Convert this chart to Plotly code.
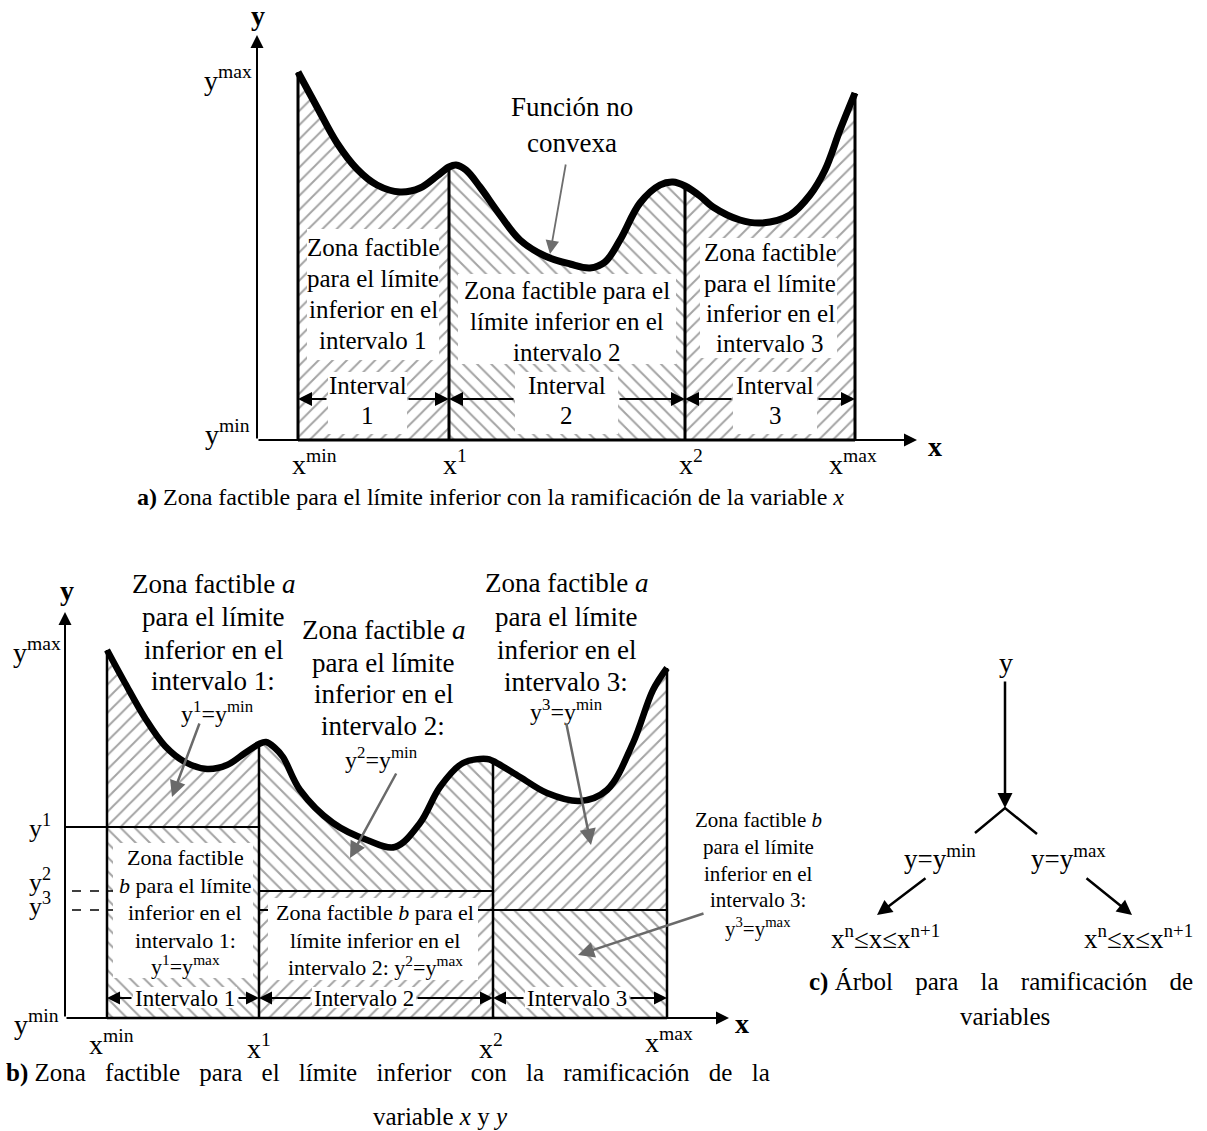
import plotly.graph_objects as go

FONT = "Liberation Serif, Times New Roman, serif"

# ---------------- panel a: branching on x only ----------------
# horizontal offset from the y axis and height above y_min
xa_bounds = [41, 192, 428, 598]          # x_min, x1, x2, x_max
xa_curve = [41, 60, 80, 100, 120, 143, 163, 180, 192,
            199, 209, 223, 243, 263, 288, 313, 333, 348, 363, 383, 403, 416, 428,
            443, 456, 483, 505, 533, 553, 568, 583, 598]
ya_curve = [368, 333, 297, 271, 255, 248, 252, 264, 273,
            275, 270, 253, 225, 200, 184, 176, 172, 178, 200, 237, 255, 258, 254,
            244, 233, 220, 217, 225, 245, 270, 310, 347]
xa_ticks = ["x<sup>min</sup>", "x<sup>1</sup>", "x<sup>2</sup>", "x<sup>max</sup>"]
a_hatch = ["/", "\\", "/"]

# ---------------- panel b: branching on x and y ----------------
xb_bounds = [42, 194, 428, 602]
xb_curve = [42, 60, 80, 100, 120, 142, 162, 180, 194,
            201, 210, 218, 235, 268, 302, 330, 355, 375, 398, 422, 428,
            455, 482, 515, 542, 568, 588, 602]
yb_curve = [368, 335, 300, 272, 256, 249, 253, 265, 274,
            276, 270, 261, 228, 195, 178, 171, 195, 231, 255, 259, 257,
            241, 225, 217, 228, 275, 328, 350]
yb_levels = [191, 127, 108]               # y1, y2, y3
b_hatch_up = ["/", "\\", "/"]
b_hatch_low = ["\\", "/", "\\"]

PAT = dict(fgcolor="#a4a4a4", bgcolor="white", size=10, solidity=0.2, fillmode="replace")

fig = go.Figure()
ann = []
shapes = []


def seg(xs, ys, a, b):
    i0, i1 = xs.index(a), xs.index(b)
    return xs[i0:i1 + 1], ys[i0:i1 + 1]


def line(x, y, axes, width=2, color="black", dash="solid", shape="linear"):
    fig.add_trace(go.Scatter(x=x, y=y, mode="lines", xaxis=axes[0], yaxis=axes[1],
                             line=dict(color=color, width=width, dash=dash, shape=shape),
                             hoverinfo="skip"))


def text(t, x, y, axes, size, xanchor="center", bold=False):
    if bold:
        t = "<b>" + t + "</b>"
    ann.append(dict(text=t, x=x, y=y, xref=axes[0], yref=axes[1], showarrow=False,
                    xanchor=xanchor, yanchor="middle", borderpad=0,
                    font=dict(family=FONT, size=size, color="black")))


def block(lines, x, ys, axes, size):
    for t, y in zip(lines, ys):
        text(t, x, y, axes, size)


def arrow(tip, tail, axes, color="black", width=2, head=2, size=1.2):
    ann.append(dict(text="", x=tip[0], y=tip[1], ax=tail[0], ay=tail[1],
                    xref=axes[0], yref=axes[1], axref=axes[0], ayref=axes[1],
                    showarrow=True, arrowhead=head, arrowsize=size, arrowwidth=width,
                    arrowcolor=color, standoff=0))


def box(x0, x1, y0, y1, axes):
    shapes.append(dict(type="rect", x0=x0, x1=x1, y0=y0, y1=y1, xref=axes[0], yref=axes[1],
                       fillcolor="white", line=dict(width=0), layer="above"))


A = ("x", "y")
B = ("x2", "y2")
C = ("x3", "y3")

# ---- panel a fills, boundaries and curve ----
for k in range(3):
    xs, ys = seg(xa_curve, ya_curve, xa_bounds[k], xa_bounds[k + 1])
    fig.add_trace(go.Scatter(x=xs, y=ys, mode="lines", fill="tozeroy",
                             line=dict(width=0, shape="spline"),
                             fillpattern=dict(shape=a_hatch[k], **PAT), hoverinfo="skip"))
for b in xa_bounds:
    top = ya_curve[xa_curve.index(b)]
    line([b, b], [0, top], A, width=3)
line([xa_bounds[0], xa_bounds[-1]], [0, 0], A, width=3)
line(xa_curve, ya_curve, A, width=7, shape="spline")

# ---- panel b fills, levels, boundaries and curve ----
for k in range(3):
    x0, x1 = xb_bounds[k], xb_bounds[k + 1]
    lev = yb_levels[k]
    xs, ys = seg(xb_curve, yb_curve, x0, x1)
    fig.add_trace(go.Scatter(x=[x0, x1], y=[lev, lev], mode="lines", fill="tozeroy",
                             xaxis="x2", yaxis="y2", line=dict(width=0),
                             fillpattern=dict(shape=b_hatch_low[k], **PAT), hoverinfo="skip"))
    fig.add_trace(go.Scatter(x=[x0, x1], y=[lev, lev], mode="lines",
                             xaxis="x2", yaxis="y2", line=dict(width=0), hoverinfo="skip"))
    fig.add_trace(go.Scatter(x=xs, y=ys, mode="lines", fill="tonexty",
                             xaxis="x2", yaxis="y2", line=dict(width=0, shape="spline"),
                             fillpattern=dict(shape=b_hatch_up[k], **PAT), hoverinfo="skip"))

line([0, xb_bounds[1]], [yb_levels[0]] * 2, B, width=2)
line([xb_bounds[1], xb_bounds[2]], [yb_levels[1]] * 2, B, width=2)
line([xb_bounds[1], xb_bounds[3]], [yb_levels[2]] * 2, B, width=2)
line([7, 55], [yb_levels[1]] * 2, B, width=1.5, dash="dash")
line([7, 55], [yb_levels[2]] * 2, B, width=1.5, dash="dash")
for b in xb_bounds:
    top = yb_curve[xb_curve.index(b)]
    line([b, b], [0, top], B, width=2.5)
line([xb_bounds[0], xb_bounds[-1]], [0, 0], B, width=2.5)
line(xb_curve, yb_curve, B, width=6.5, shape="spline")

# ---- panel c: branching tree ----
line([-30, 0, 32], [-25, 0, -26], C, width=2.5)

# ---------------- panel a annotations ----------------
arrow((0, 405), (0, 0), A, width=2, size=1.3)
arrow((660, 0), (0, 0), A, width=2, size=1.3)
text("y", 1, 425, A, 28, bold=True)
text("x", 678, -6, A, 28, bold=True)
text("y<sup>max</sup>", -4, 362, A, 28, xanchor="right")
text("y<sup>min</sup>", -6, 8, A, 28, xanchor="right")
for b, t, dx in zip(xa_bounds, xa_ticks, [16, 6, 6, -2]):
    text(t, b + dx, -22, A, 28)

box(50, 182, 80, 211, A)
box(201, 419, 76, 166, A)
box(443, 580, 82, 202, A)
block(["Zona factible", "para el límite", "inferior en el", "intervalo 1"], 116, [193, 162, 131, 100], A, 25)
block(["Zona factible para el", "límite inferior en el", "intervalo 2"], 310, [150, 119, 88], A, 25)
block(["Zona factible", "para el límite", "inferior en el", "intervalo 3"], 513, [188, 157, 127, 97], A, 25)

for k, (lo, hi) in enumerate([(71, 150), (258, 361), (476, 560)]):
    box(lo, hi, 6, 68, A)
    cx = (lo + hi) / 2
    block(["Interval", str(k + 1)], cx, [55, 25], A, 25)
    arrow((xa_bounds[k], 41), (lo, 41), A, width=2, size=1.4)
    arrow((xa_bounds[k + 1], 41), (hi, 41), A, width=2, size=1.4)

block(["Función no", "convexa"], 315, [333, 297], A, 27)
arrow((293, 186), (309, 277), A, color="#6e6e6e", width=1.8, size=1.5)
text("<b>a)</b> Zona factible para el límite inferior con la ramificación de la variable <i>x</i>",
     233, -57, A, 24)

# ---------------- panel b annotations ----------------
arrow((0, 406), (0, 0), B, width=2, size=1.3)
arrow((664, 0), (0, 0), B, width=2, size=1.3)
text("y", 2, 428, B, 28, bold=True)
text("x", 677, -5, B, 28, bold=True)
text("y<sup>max</sup>", -3, 368, B, 28, xanchor="right")
text("y<sup>1</sup>", -13, 192, B, 26, xanchor="right")
text("y<sup>2</sup>", -13, 138, B, 26, xanchor="right")
text("y<sup>3</sup>", -13, 114, B, 26, xanchor="right")
text("y<sup>min</sup>", -5, -4, B, 28, xanchor="right")
for b, t, dx, dy in zip(xb_bounds, xa_ticks, [4, 0, -2, 2], [-24, -28, -28, -22]):
    text(t, b + dx, dy, B, 28)

block(["Zona factible <i>a</i>", "para el límite", "inferior en el", "intervalo 1:"],
      148, [434, 401, 368, 337], B, 27)
text("y<sup>1</sup>=y<sup>min</sup>", 152, 306, B, 24)
block(["Zona factible <i>a</i>", "para el límite", "inferior en el", "intervalo 2:"],
      318, [388, 355, 324, 292], B, 27)
text("y<sup>2</sup>=y<sup>min</sup>", 316, 260, B, 24)
block(["Zona factible <i>a</i>", "para el límite", "inferior en el", "intervalo 3:"],
      501, [435, 401, 368, 336], B, 27)
text("y<sup>3</sup>=y<sup>min</sup>", 501, 308, B, 24)

box(48, 188, 40, 175, B)
block(["Zona factible", "<i>b</i> para el límite", "inferior en el", "intervalo 1:",
       "y<sup>1</sup>=y<sup>max</sup>"], 120, [161, 133, 106, 78, 53], B, 22)
box(203, 413, 38, 120, B)
block(["Zona factible <i>b</i> para el", "límite inferior en el",
       "intervalo 2: y<sup>2</sup>=y<sup>max</sup>"], 310, [106, 78, 52], B, 22)
block(["Zona factible <i>b</i>", "para el límite", "inferior en el", "intervalo 3:",
       "y<sup>3</sup>=y<sup>max</sup>"], 693, [198, 171, 144, 118, 91], B, 21)

for k, (lo, hi) in enumerate([(68, 172), (247, 351), (460, 564)]):
    box(lo, hi, 10, 31, B)
    text("Intervalo " + str(k + 1), (lo + hi) / 2, 20, B, 23)
    arrow((xb_bounds[k], 20), (lo, 20), B, width=2, size=1.3)
    arrow((xb_bounds[k + 1], 20), (hi, 20), B, width=2, size=1.3)

GRAY = "#6a6a6a"
arrow((107, 221), (135, 296), B, color=GRAY, width=2.5, size=1.3)
arrow((285, 160), (332, 246), B, color=GRAY, width=2.5, size=1.3)
arrow((526, 173), (501, 296), B, color=GRAY, width=2.5, size=1.3)
arrow((513, 63), (640, 105), B, color=GRAY, width=2.5, size=1.3)

text("<b>b)</b> <span style='word-spacing:13px'>Zona factible para el límite inferior con la ramificación de la</span>",
     -60, -55, B, 25, xanchor="left")
text("variable <i>x</i> y <i>y</i>", 375, -98, B, 25)

# ---------------- panel c annotations ----------------
text("y", 1, 146, C, 28)
arrow((0, 0), (0, 128), C, width=2.5, size=1.2)
text("y=y<sup>min</sup>", -65, -49, C, 27)
text("y=y<sup>max</sup>", 63, -49, C, 27)
arrow((-128, -107), (-78, -69), C, width=2.5, size=1.2)
arrow((127, -107), (80, -69), C, width=2.5, size=1.2)
text("x<sup>n</sup>≤x≤x<sup>n+1</sup>", -120, -129, C, 27)
text("x<sup>n</sup>≤x≤x<sup>n+1</sup>", 133, -129, C, 27)
text("<b>c)</b> <span style='word-spacing:16px'>Árbol para la ramificación de</span>",
     -197, -174, C, 25, xanchor="left")
text("variables", 0, -208, C, 25)

ax_common = dict(visible=False, domain=[0, 1], fixedrange=True)
fig.update_layout(
    width=1207, height=1131, autosize=False,
    margin=dict(l=0, r=0, t=0, b=0),
    paper_bgcolor="white", plot_bgcolor="rgba(0,0,0,0)",
    showlegend=False,
    xaxis=dict(range=[-257, 950], **ax_common),
    yaxis=dict(range=[-691, 440], **ax_common),
    xaxis2=dict(range=[-65, 1142], overlaying="x", anchor="y2", **ax_common),
    yaxis2=dict(range=[-113, 1018], overlaying="y", anchor="x2", **ax_common),
    xaxis3=dict(range=[-1005, 202], overlaying="x", anchor="y3", **ax_common),
    yaxis3=dict(range=[-323, 808], overlaying="y", anchor="x3", **ax_common),
    annotations=ann, shapes=shapes,
)

fig.write_html("out.html")
